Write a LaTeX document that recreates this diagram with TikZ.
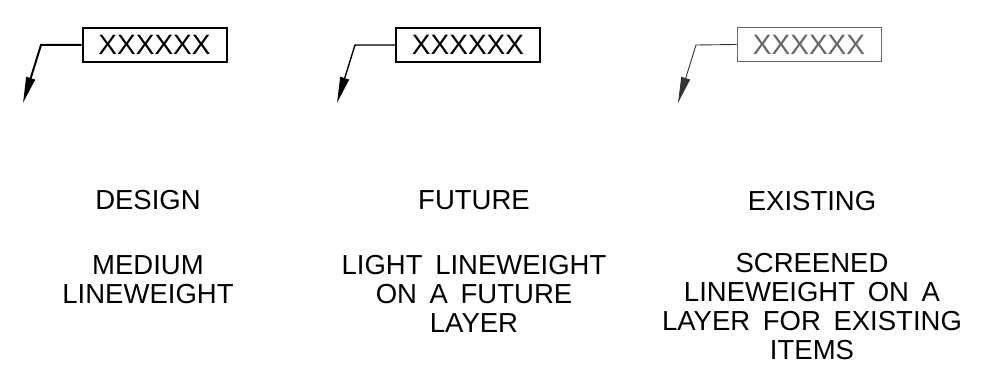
\documentclass[tikz,border=0pt]{standalone}
\usepackage{fontspec}
\setmainfont{Liberation Sans}
\usetikzlibrary{arrows.meta}
% caption type: wider word spacing
\newcommand\capfont{\fontsize{27.5}{29}\selectfont\setlength\spaceskip{0.46em}}

\begin{document}
\begin{tikzpicture}[x=1pt,y=-1pt,
  tagbox/.style={draw=#1, text=#1, minimum width=144pt, minimum height=34pt,
    inner sep=0pt, font=\fontsize{28}{29}\selectfont},
  leader/.style={draw=#1, line join=miter,
    -{Triangle[length=26pt,width=9pt]}},
  caption/.style={anchor=north, inner sep=0pt, align=center, font=\capfont}]
  \useasboundingbox (0,0) rectangle (1007,374);

  % design: medium lineweight
  \node[tagbox=black, line width=2pt] (b1) at (154.5,45) {XXXXXX};
  \coordinate (k1) at (41,45);
  \coordinate (t1) at (23,103);
  \draw[leader=black, line width=2pt] (b1.west) -- (k1) -- (t1);

  % future: light lineweight
  \node[tagbox=black, line width=1.4pt] (b2) at (468,45) {XXXXXX};
  \coordinate (k2) at (355,45);
  \coordinate (t2) at (337,103);
  \draw[leader=black, line width=1.4pt] (b2.west) -- (k2) -- (t2);

  % existing: screened lineweight
  \node[tagbox=black!60, line width=0.9pt] (b3) at (809,44.5) {XXXXXX};
  \coordinate (k3) at (696,45);
  \coordinate (t3) at (678,103);
  \draw[leader=black!80, line width=0.9pt] (b3.west) -- (k3) -- (t3);

  % captions
  \node[caption] (h1) at (148,190) {DESIGN};
  \node[caption] (h2) at (474,190) {FUTURE};
  \node[caption] (h3) at (812,191) {EXISTING};

  \node[caption] (d1) at (148,255) {MEDIUM\\LINEWEIGHT};
  \node[caption] (d2) at (474,255) {LIGHT LINEWEIGHT\\ON A FUTURE\\LAYER};
  \node[caption] (d3) at (812,253) {SCREENED\\LINEWEIGHT ON A\\LAYER FOR EXISTING\\ITEMS};
\end{tikzpicture}
\end{document}
